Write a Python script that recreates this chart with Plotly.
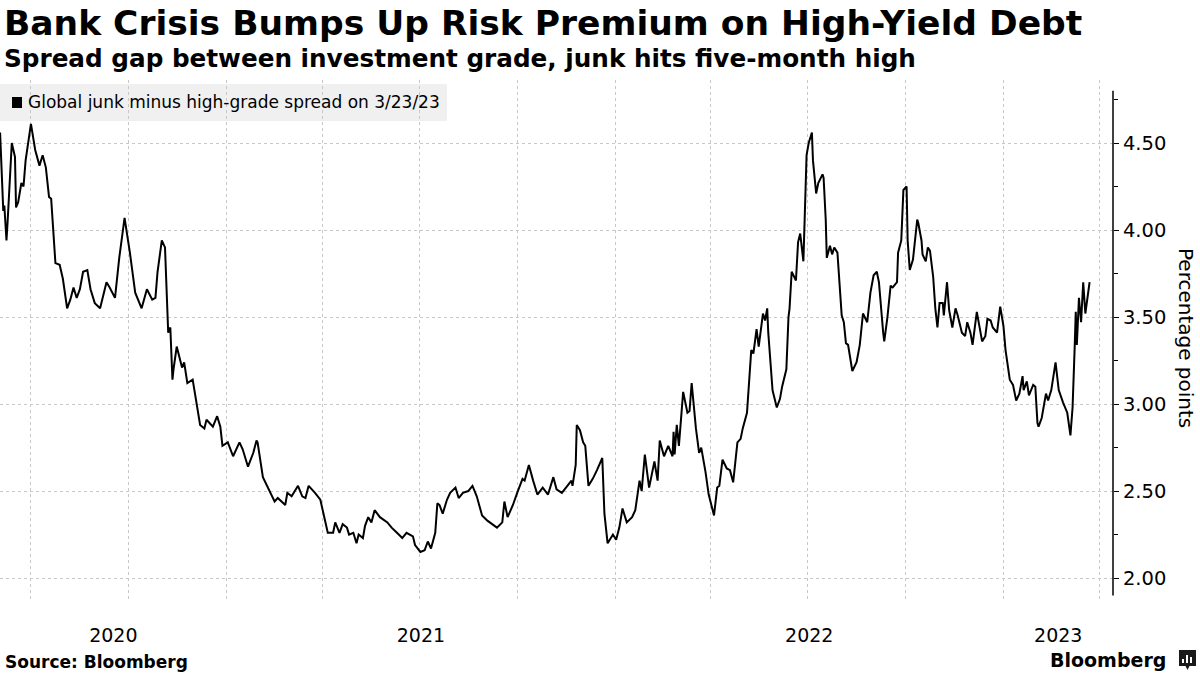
import pandas as pd
import plotly.graph_objects as go

# ---- data ----
dates = [
    "2020-06-02", "2020-06-05", "2020-06-06", "2020-06-08", "2020-06-09", "2020-06-13", "2020-06-16", "2020-06-17",
    "2020-06-19", "2020-06-22", "2020-06-24", "2020-06-26", "2020-07-01", "2020-07-05", "2020-07-09", "2020-07-12",
    "2020-07-15", "2020-07-18", "2020-07-20", "2020-07-24", "2020-07-28", "2020-07-31", "2020-08-04", "2020-08-07",
    "2020-08-10", "2020-08-13", "2020-08-16", "2020-08-19", "2020-08-23", "2020-08-26", "2020-08-30", "2020-09-04",
    "2020-09-10", "2020-09-13", "2020-09-18", "2020-09-22", "2020-09-27", "2020-10-02", "2020-10-07", "2020-10-13",
    "2020-10-18", "2020-10-23", "2020-10-26", "2020-10-28", "2020-11-01", "2020-11-04", "2020-11-07", "2020-11-09",
    "2020-11-11", "2020-11-12", "2020-11-15", "2020-11-20", "2020-11-22", "2020-11-25", "2020-11-30", "2020-12-04",
    "2020-12-07", "2020-12-11", "2020-12-13", "2020-12-19", "2020-12-23", "2020-12-26", "2020-12-28", "2021-01-02",
    "2021-01-07", "2021-01-13", "2021-01-16", "2021-01-21", "2021-01-26", "2021-01-29", "2021-01-30", "2021-02-04",
    "2021-02-09", "2021-02-15", "2021-02-18", "2021-02-25", "2021-02-27", "2021-03-03", "2021-03-09", "2021-03-13",
    "2021-03-16", "2021-03-19", "2021-03-25", "2021-03-30", "2021-04-06", "2021-04-11", "2021-04-13", "2021-04-17",
    "2021-04-20", "2021-04-24", "2021-04-26", "2021-04-30", "2021-05-03", "2021-05-05", "2021-05-09", "2021-05-11",
    "2021-05-14", "2021-05-17", "2021-05-20", "2021-05-25", "2021-06-01", "2021-06-05", "2021-06-10", "2021-06-15",
    "2021-06-19", "2021-06-25", "2021-06-27", "2021-07-02", "2021-07-06", "2021-07-09", "2021-07-12", "2021-07-16",
    "2021-07-18", "2021-07-20", "2021-07-23", "2021-07-27", "2021-07-30", "2021-08-04", "2021-08-07", "2021-08-11",
    "2021-08-16", "2021-08-20", "2021-08-24", "2021-08-29", "2021-09-03", "2021-09-07", "2021-09-12", "2021-09-17",
    "2021-09-19", "2021-09-22", "2021-09-27", "2021-10-01", "2021-10-06", "2021-10-08", "2021-10-12", "2021-10-16",
    "2021-10-20", "2021-10-25", "2021-10-30", "2021-11-04", "2021-11-07", "2021-11-12", "2021-11-17", "2021-11-21",
    "2021-11-22", "2021-11-25", "2021-11-26", "2021-11-29", "2021-12-02", "2021-12-04", "2021-12-07", "2021-12-11",
    "2021-12-15", "2021-12-20", "2021-12-22", "2021-12-25", "2021-12-30", "2022-01-02", "2022-01-05", "2022-01-08",
    "2022-01-12", "2022-01-17", "2022-01-20", "2022-01-24", "2022-01-26", "2022-01-29", "2022-02-02", "2022-02-07",
    "2022-02-10", "2022-02-12", "2022-02-16", "2022-02-20", "2022-02-24", "2022-02-25", "2022-02-26", "2022-02-28",
    "2022-03-02", "2022-03-06", "2022-03-10", "2022-03-12", "2022-03-14", "2022-03-18", "2022-03-21", "2022-03-23",
    "2022-03-27", "2022-03-30", "2022-04-04", "2022-04-07", "2022-04-09", "2022-04-12", "2022-04-16", "2022-04-19",
    "2022-04-22", "2022-04-26", "2022-04-29", "2022-05-01", "2022-05-05", "2022-05-09", "2022-05-11", "2022-05-13",
    "2022-05-14", "2022-05-16", "2022-05-20", "2022-05-22", "2022-05-24", "2022-05-25", "2022-05-28", "2022-05-29",
    "2022-06-02", "2022-06-05", "2022-06-07", "2022-06-11", "2022-06-13", "2022-06-14", "2022-06-16", "2022-06-20",
    "2022-06-22", "2022-06-24", "2022-06-27", "2022-06-29", "2022-06-30", "2022-07-02", "2022-07-05", "2022-07-06",
    "2022-07-09", "2022-07-11", "2022-07-15", "2022-07-16", "2022-07-18", "2022-07-19", "2022-07-22", "2022-07-24",
    "2022-07-26", "2022-07-29", "2022-07-31", "2022-08-02", "2022-08-04", "2022-08-06", "2022-08-08", "2022-08-12",
    "2022-08-16", "2022-08-19", "2022-08-22", "2022-08-26", "2022-08-29", "2022-09-01", "2022-09-04", "2022-09-06",
    "2022-09-10", "2022-09-11", "2022-09-14", "2022-09-17", "2022-09-19", "2022-09-23", "2022-09-24", "2022-09-27",
    "2022-09-29", "2022-10-02", "2022-10-03", "2022-10-05", "2022-10-08", "2022-10-12", "2022-10-13", "2022-10-16",
    "2022-10-17", "2022-10-20", "2022-10-22", "2022-10-24", "2022-10-27", "2022-10-29", "2022-10-31", "2022-11-02",
    "2022-11-05", "2022-11-06", "2022-11-09", "2022-11-11", "2022-11-14", "2022-11-17", "2022-11-19", "2022-11-23",
    "2022-11-26", "2022-11-28", "2022-12-01", "2022-12-03", "2022-12-07", "2022-12-12", "2022-12-15", "2022-12-17",
    "2022-12-20", "2022-12-22", "2022-12-26", "2022-12-29", "2023-01-01", "2023-01-03", "2023-01-07", "2023-01-10",
    "2023-01-13", "2023-01-16", "2023-01-19", "2023-01-20", "2023-01-23", "2023-01-25", "2023-01-29", "2023-01-31",
    "2023-02-02", "2023-02-03", "2023-02-06", "2023-02-07", "2023-02-10", "2023-02-12", "2023-02-15", "2023-02-19",
    "2023-02-22", "2023-02-26", "2023-02-28", "2023-03-02", "2023-03-05", "2023-03-07", "2023-03-09", "2023-03-10",
    "2023-03-11", "2023-03-13", "2023-03-15", "2023-03-17", "2023-03-19", "2023-03-23",
]

spread = [
    4.56, 4.11, 4.14, 3.94, 4.04, 4.50, 4.42, 4.13,
    4.16, 4.27, 4.25, 4.40, 4.61, 4.46, 4.37, 4.43,
    4.36, 4.19, 4.18, 3.81, 3.80, 3.72, 3.55, 3.60,
    3.67, 3.61, 3.66, 3.76, 3.77, 3.66, 3.58, 3.55,
    3.70, 3.67, 3.61, 3.84, 4.07, 3.87, 3.64, 3.55,
    3.66, 3.60, 3.61, 3.76, 3.94, 3.90, 3.41, 3.44,
    3.14, 3.20, 3.33, 3.21, 3.24, 3.12, 3.14, 2.98,
    2.88, 2.86, 2.91, 2.87, 2.93, 2.87, 2.76, 2.78,
    2.70, 2.78, 2.74, 2.64, 2.72, 2.79, 2.78, 2.58,
    2.52, 2.44, 2.46, 2.42, 2.49, 2.47, 2.53, 2.47,
    2.46, 2.53, 2.49, 2.45, 2.26, 2.26, 2.32, 2.26,
    2.31, 2.29, 2.25, 2.26, 2.20, 2.25, 2.23, 2.30,
    2.35, 2.32, 2.39, 2.35, 2.32, 2.29, 2.26, 2.23,
    2.26, 2.24, 2.19, 2.15, 2.16, 2.21, 2.17, 2.26,
    2.43, 2.42, 2.37, 2.45, 2.49, 2.52, 2.46, 2.49,
    2.50, 2.53, 2.47, 2.36, 2.33, 2.31, 2.29, 2.32,
    2.44, 2.35, 2.42, 2.49, 2.57, 2.56, 2.65, 2.56,
    2.48, 2.52, 2.48, 2.58, 2.51, 2.49, 2.53, 2.56,
    2.53, 2.65, 2.88, 2.85, 2.78, 2.76, 2.53, 2.57,
    2.62, 2.69, 2.37, 2.20, 2.25, 2.22, 2.29, 2.40,
    2.32, 2.35, 2.39, 2.56, 2.50, 2.71, 2.52, 2.67,
    2.56, 2.79, 2.70, 2.76, 2.70, 2.84, 2.71, 2.88,
    2.76, 3.07, 2.95, 2.96, 3.12, 2.86, 2.72, 2.75,
    2.61, 2.48, 2.36, 2.52, 2.53, 2.68, 2.63, 2.62,
    2.55, 2.78, 2.80, 2.86, 2.95, 3.31, 3.29, 3.41,
    3.43, 3.33, 3.52, 3.48, 3.55, 3.41, 3.16, 3.08,
    2.98, 3.03, 3.10, 3.20, 3.50, 3.55, 3.76, 3.71,
    3.93, 3.98, 3.82, 4.17, 4.43, 4.50, 4.56, 4.40,
    4.21, 4.27, 4.32, 4.30, 4.06, 3.84, 3.91, 3.86,
    3.90, 3.87, 3.67, 3.51, 3.47, 3.35, 3.34, 3.19,
    3.24, 3.34, 3.52, 3.47, 3.64, 3.74, 3.76, 3.70,
    3.41, 3.36, 3.50, 3.68, 3.67, 3.70, 3.87, 3.94,
    4.23, 4.25, 3.94, 3.77, 3.83, 4.06, 4.04, 3.94,
    3.86, 3.82, 3.90, 3.88, 3.73, 3.55, 3.44, 3.58,
    3.58, 3.51, 3.70, 3.54, 3.44, 3.55, 3.51, 3.41,
    3.39, 3.47, 3.41, 3.34, 3.53, 3.36, 3.39, 3.49,
    3.48, 3.44, 3.41, 3.56, 3.45, 3.31, 3.14, 3.11,
    3.02, 3.06, 3.16, 3.08, 3.13, 3.05, 3.11, 3.10,
    2.89, 2.87, 2.92, 2.95, 3.06, 3.02, 3.08, 3.24,
    3.08, 3.01, 2.98, 2.95, 2.82, 2.98, 3.33, 3.53,
    3.34, 3.61, 3.47, 3.70, 3.52, 3.70,
]

y_ticks = [2.0, 2.5, 3.0, 3.5, 4.0, 4.5]
year_labels = ["2020", "2021", "2022", "2023"]

title = "Bank Crisis Bumps Up Risk Premium on High-Yield Debt"
subtitle = "Spread gap between investment grade, junk hits five-month high"
series_name = "Global junk minus high-grade spread on 3/23/23"
y_title = "Percentage points"
source = "Source: Bloomberg"

# ---- layout geometry ----
W, H = 1200, 675
ML, MR, MT, MB = 0, 87, 80, 75
PW = W - ML - MR
PH = H - MT - MB

x_range = [pd.Timestamp("2020-06-01 22:00"), pd.Timestamp("2023-04-14")]
y_range = [1.874, 4.862]
axis_span = [1.9, 4.8]


def px(x):
    return (x - ML) / PW


def py(y):
    return (H - MB - y) / PH


# year-label positions: centre of the visible part of each year
year_pos = []
for lab in year_labels:
    s = max(pd.Timestamp(f"{lab}-01-01"), x_range[0])
    e = min(pd.Timestamp(f"{int(lab) + 1}-01-01"), x_range[1])
    year_pos.append(s + (e - s) / 2)

FONT = "DejaVu Sans"
GRID = "#c8c8c8"

fig = go.Figure()
fig.add_trace(go.Scatter(
    x=pd.to_datetime(dates), y=spread, mode="lines",
    line=dict(color="black", width=2), name=series_name,
    showlegend=False, hoverinfo="x+y",
))

fig.update_layout(
    width=W, height=H, autosize=False,
    margin=dict(l=ML, r=MR, t=MT, b=MB),
    paper_bgcolor="white", plot_bgcolor="rgba(0,0,0,0)",
    font=dict(family=FONT, color="black", size=18),
    showlegend=False,
    xaxis=dict(
        type="date", range=x_range,
        tickvals=year_pos, ticktext=year_labels,
        ticks="", showgrid=False, zeroline=False, showline=False,
        tickfont=dict(size=19, family=FONT),
        ticklabelstandoff=22,
        minor=dict(tick0="2020-01-01", dtick="M3", showgrid=True,
                   gridcolor=GRID, griddash="dot", gridwidth=1, ticks=""),
    ),
    yaxis=dict(
        side="right", range=y_range,
        tickvals=y_ticks, tickformat=".2f",
        ticks="outside", ticklen=5, tickcolor="black", tickwidth=1,
        showgrid=True, gridcolor=GRID, griddash="dot", gridwidth=1,
        zeroline=False, showline=False,
        tickfont=dict(size=19.5, family=FONT),
        minor=dict(dtick=0.25, tick0=0, ticks="outside", ticklen=4,
                   tickcolor="black", showgrid=False),
    ),
)

shapes = [
    # legend box
    dict(type="rect", xref="paper", yref="paper", layer="below",
         x0=px(0), x1=px(447), y0=py(121), y1=py(84),
         fillcolor="#f0f0f0", line=dict(width=0)),
    # legend key
    dict(type="rect", xref="paper", yref="paper",
         x0=px(12), x1=px(22), y0=py(108), y1=py(97),
         fillcolor="black", line=dict(width=0)),
    # y axis line
    dict(type="line", xref="paper", yref="y", x0=1, x1=1,
         y0=axis_span[0], y1=axis_span[1], line=dict(color="black", width=1.5)),
    # logo icon
    dict(type="rect", xref="paper", yref="paper",
         x0=px(1179), x1=px(1196), y0=py(666), y1=py(650),
         fillcolor="#1a1a1a", line=dict(width=0)),
    dict(type="path", xref="paper", yref="paper",
         path=f"M {px(1185)},{py(665)} L {px(1190)},{py(665)} L {px(1187.5)},{py(670)} Z",
         fillcolor="#1a1a1a", line=dict(width=0)),
]
for bx, top in [(1182, 659), (1186, 655), (1190, 657)]:
    shapes.append(dict(type="rect", xref="paper", yref="paper",
                       x0=px(bx), x1=px(bx + 2), y0=py(663), y1=py(top),
                       fillcolor="white", line=dict(width=0)))
fig.update_layout(shapes=shapes)

annotations = [
    dict(text=f"<b>{title}</b>", x=px(2), y=py(23), xanchor="left", yanchor="middle",
         font=dict(size=34.5, family=FONT)),
    dict(text=f"<b>{subtitle}</b>", x=px(2), y=py(59), xanchor="left", yanchor="middle",
         font=dict(size=24.7, family=FONT)),
    dict(text=series_name, x=px(26), y=py(102), xanchor="left", yanchor="middle",
         font=dict(size=17, family=FONT)),
    dict(text=y_title, x=px(1186), y=py(338), xanchor="center", yanchor="middle",
         textangle=90, font=dict(size=20, family=FONT)),
    dict(text=f"<b>{source}</b>", x=px(3), y=py(662), xanchor="left", yanchor="middle",
         font=dict(size=17, family=FONT)),
    dict(text="<b>Bloomberg</b>", x=px(1168), y=py(660), xanchor="right", yanchor="middle",
         font=dict(size=19, family=FONT)),
]
for a in annotations:
    a.update(xref="paper", yref="paper", showarrow=False)
fig.update_layout(annotations=annotations)

fig.write_html("out.html", config={"displayModeBar": False},
               post_script="document.body.style.margin='0';")
